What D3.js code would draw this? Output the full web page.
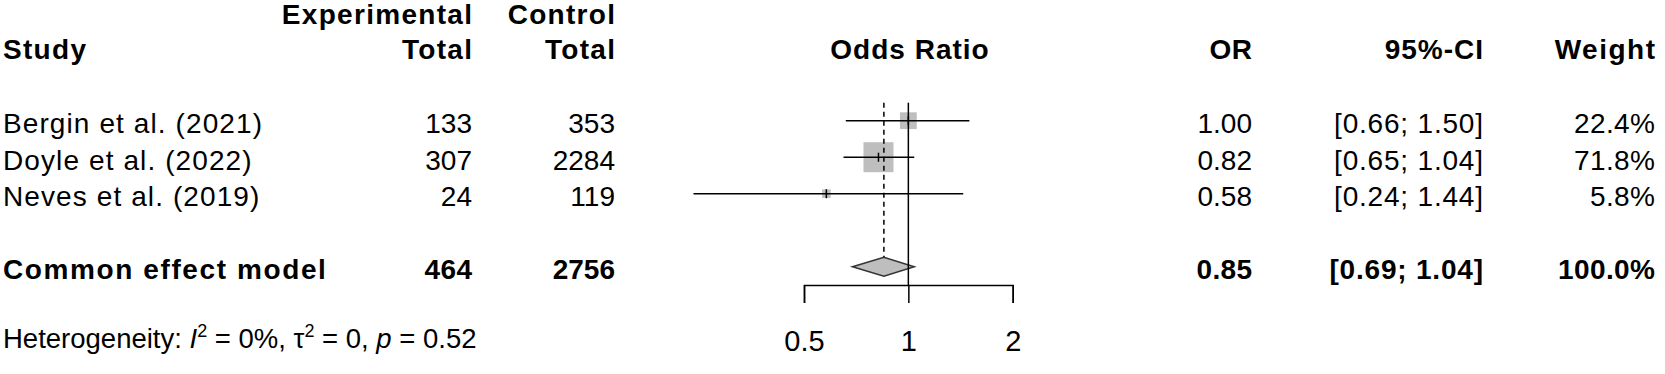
<!DOCTYPE html>
<html>
<head>
<meta charset="utf-8">
<script src="https://cdn.jsdelivr.net/npm/d3@7"></script>
<style>
  body { margin: 0; background: #fff; }
  svg { display: block; font-family: "Liberation Sans", Arial, sans-serif; }
</style>
</head>
<body>
<div id="chart"></div>
<script>
const WIDTH = 1665;
const HEIGHT = 374;
const FONT = 28;

const STUDIES = ['Bergin et al. (2021)', 'Doyle et al. (2022)', 'Neves et al. (2019)'];
const EXP_TOTAL = [133, 307, 24];
const CTRL_TOTAL = [353, 2284, 119];
const OR = [1.00, 0.82, 0.58];
const LOWER = [0.66, 0.65, 0.24];
const UPPER = [1.50, 1.04, 1.44];
const WEIGHT = [22.4, 71.8, 5.8];

const POOLED_LABEL = 'Common effect model';
const POOLED_EXP = 464;
const POOLED_CTRL = 2756;
const POOLED_OR = 0.85;
const POOLED_CI = [0.69, 1.04];
const POOLED_WEIGHT = 100.0;

const TICKS = [0.5, 1, 2];

const svg = d3.select('#chart').append('svg')
  .attr('width', WIDTH)
  .attr('height', HEIGHT);

const x = d3.scaleLog().domain([0.5, 2]).range([804, 1012.7]);
const y = d3.scaleLinear().domain([0, 4]).range([120.7, 266.7]);
const side = d3.scaleSqrt().domain([0, 100]).range([0, 35.4]);

const cols = {
  study: 3,
  exp: 472,
  ctrl: 615,
  plot: 910,
  or: 1252,
  ci: 1483,
  weight: 1655
};
const fmt2 = d3.format('.2f');
const fmtW = d => d3.format('.1f')(d) + '%';

// the reference font sets words a little looser than Arial, digits the same
function text(g, str, xPos, yPos, anchor, bold, spacing) {
  const sp = spacing || 0;
  return g.append('text')
    .attr('x', anchor === 'end' ? xPos + sp : xPos)
    .attr('y', yPos)
    .attr('text-anchor', anchor)
    .attr('font-size', FONT)
    .attr('font-weight', bold ? 'bold' : 'normal')
    .attr('letter-spacing', sp)
    .attr('fill', '#000')
    .text(str);
}

// headers
const head = svg.append('g');
const HS = 1.3;
text(head, 'Experimental', cols.exp, 23.5, 'end', true, HS);
text(head, 'Control', cols.ctrl, 23.5, 'end', true, HS);
text(head, 'Study', cols.study, 58.5, 'start', true, HS);
text(head, 'Total', cols.exp, 58.5, 'end', true, HS);
text(head, 'Total', cols.ctrl, 58.5, 'end', true, HS);
text(head, 'Odds Ratio', cols.plot, 58.5, 'middle', true, 1.0);
text(head, 'OR', cols.or, 58.5, 'end', true, 0.5);
text(head, '95%-CI', cols.ci, 58.5, 'end', true, 1.0);
text(head, 'Weight', cols.weight, 58.5, 'end', true, 1.5);

// study rows
const rows = svg.append('g');
STUDIES.forEach((s, i) => {
  const ty = y(i) + 12.5;
  text(rows, s, cols.study, ty, 'start', false, 1.1);
  text(rows, EXP_TOTAL[i], cols.exp, ty, 'end', false);
  text(rows, CTRL_TOTAL[i], cols.ctrl, ty, 'end', false);
  text(rows, fmt2(OR[i]), cols.or, ty, 'end', false);
  text(rows, `[${fmt2(LOWER[i])}; ${fmt2(UPPER[i])}]`, cols.ci, ty, 'end', false, 0.8);
  text(rows, fmtW(WEIGHT[i]), cols.weight, ty, 'end', false, 0.4);
});

// pooled row
const py = y(4) + 12.5;
text(rows, POOLED_LABEL, cols.study, py, 'start', true, 1.6);
text(rows, POOLED_EXP, cols.exp, py, 'end', true, 0.4);
text(rows, POOLED_CTRL, cols.ctrl, py, 'end', true);
text(rows, fmt2(POOLED_OR), cols.or, py, 'end', true, 0.3);
text(rows, `[${fmt2(POOLED_CI[0])}; ${fmt2(POOLED_CI[1])}]`, cols.ci, py, 'end', true, 0.8);
text(rows, fmtW(POOLED_WEIGHT), cols.weight, py, 'end', true, 0.4);

// plot
const plot = svg.append('g');
const plotTop = y(0) - 18;
const idx = STUDIES.map((s, i) => i);

// squares
plot.selectAll('rect.sq')
  .data(idx)
  .enter().append('rect')
  .attr('class', 'sq')
  .attr('x', i => x(OR[i]) - side(WEIGHT[i]) / 2)
  .attr('y', i => y(i) - side(WEIGHT[i]) / 2)
  .attr('width', i => side(WEIGHT[i]))
  .attr('height', i => side(WEIGHT[i]))
  .attr('fill', '#bebebe');

// CI lines
plot.selectAll('line.ci')
  .data(idx)
  .enter().append('line')
  .attr('class', 'ci')
  .attr('x1', i => x(LOWER[i]))
  .attr('x2', i => x(UPPER[i]))
  .attr('y1', i => y(i))
  .attr('y2', i => y(i))
  .attr('stroke', '#000')
  .attr('stroke-width', 1.5);

// estimate ticks
plot.selectAll('line.est')
  .data(idx)
  .enter().append('line')
  .attr('class', 'est')
  .attr('x1', i => x(OR[i]))
  .attr('x2', i => x(OR[i]))
  .attr('y1', i => y(i) - 4.5)
  .attr('y2', i => y(i) + 4.5)
  .attr('stroke', '#000')
  .attr('stroke-width', 1.5);

// diamond
const dh = 9.5;
plot.append('path')
  .attr('d', `M${x(POOLED_CI[0])},${y(4)}L${x(POOLED_OR)},${y(4) - dh}L${x(POOLED_CI[1])},${y(4)}L${x(POOLED_OR)},${y(4) + dh}Z`)
  .attr('fill', '#bebebe')
  .attr('stroke', '#333')
  .attr('stroke-width', 1.5);

// dashed pooled line
plot.append('line')
  .attr('x1', x(POOLED_OR)).attr('x2', x(POOLED_OR))
  .attr('y1', plotTop).attr('y2', y(4) - dh)
  .attr('stroke', '#000')
  .attr('stroke-width', 1.5)
  .attr('stroke-dasharray', '5,4');

// null line
plot.append('line')
  .attr('x1', x(1)).attr('x2', x(1))
  .attr('y1', plotTop).attr('y2', 285)
  .attr('stroke', '#000')
  .attr('stroke-width', 1.5);

// axis
const axis = d3.axisBottom(x)
  .tickValues(TICKS)
  .tickFormat(d => d)
  .tickSize(18)
  .tickSizeOuter(18)
  .tickPadding(27);
const ax = plot.append('g')
  .attr('transform', 'translate(0,285)')
  .call(axis);
ax.selectAll('path, line').attr('stroke', '#000').attr('stroke-width', 1.5);
ax.selectAll('text')
  .attr('font-size', 29)
  .attr('font-family', '"Liberation Sans", Arial, sans-serif')
  .attr('fill', '#000');

// heterogeneity
const het = svg.append('text')
  .attr('x', 3)
  .attr('y', 348)
  .attr('font-size', 27.5)
  .attr('fill', '#000');
het.append('tspan').text('Heterogeneity: ');
het.append('tspan').attr('font-style', 'italic').text('I');
het.append('tspan').attr('font-size', 18).attr('dy', -11).text('2');
het.append('tspan').attr('dy', 11).text(' = 0%, \u03c4');
het.append('tspan').attr('font-size', 18).attr('dy', -11).text('2');
het.append('tspan').attr('dy', 11).text(' = 0, ');
het.append('tspan').attr('font-style', 'italic').text('p');
het.append('tspan').text(' = 0.52');
</script>
</body>
</html>
